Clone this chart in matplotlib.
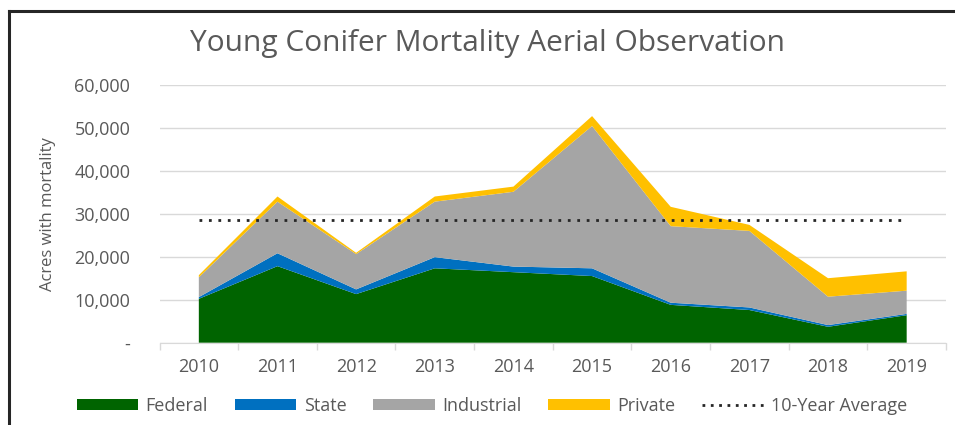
import matplotlib
matplotlib.use("Agg")
import matplotlib.pyplot as plt
from matplotlib.lines import Line2D
from matplotlib.patches import Patch
import numpy as np

years = ["2010", "2011", "2012", "2013", "2014", "2015", "2016", "2017", "2018", "2019"]
federal = [10200, 17800, 11300, 17300, 16400, 15500, 8800, 7600, 3700, 6400]
state = [400, 3000, 1100, 2600, 1300, 1800, 500, 600, 400, 300]
industrial = [4600, 12000, 8200, 12900, 17400, 33100, 17800, 17800, 6600, 5400]
private = [500, 1200, 300, 1200, 1200, 2300, 4500, 1400, 4300, 4500]
ten_year_avg = 28500
yticks = [0, 10000, 20000, 30000, 40000, 50000, 60000]
ytick_labels = ["-", "10,000", "20,000", "30,000", "40,000", "50,000", "60,000"]

colors = ["#006400", "#0070C0", "#A5A5A5", "#FFC000"]
names = ["Federal", "State", "Industrial", "Private"]
txt = "#595959"
plt.rcParams['font.family'] = ['Open Sans', 'DejaVu Sans']

fig = plt.figure(figsize=(9.55, 4.25), dpi=100)
ax = fig.add_axes([159.5/955, 1-342.7/425, (946-159.5)/955, (342.7-84.7)/425])
x = np.arange(len(years))
ax.stackplot(x, federal, state, industrial, private, colors=colors, linewidth=0)
ax.plot([x[0], x[-1]], [ten_year_avg]*2, color="#262626", linestyle=(0, (1, 2.4)), linewidth=2.0)

ax.set_xlim(-0.5, len(years) - 0.5)
ax.set_ylim(0, 60000)
ax.set_yticks(yticks)
ax.set_yticklabels(ytick_labels, color=txt, fontsize=13)
ax.set_xticks(x)
ax.set_xticklabels(years, color=txt, fontsize=13)
ax.set_xticks(np.arange(-0.5, len(years)), minor=True)
ax.tick_params(axis='x', which='major', length=0, pad=11)
ax.tick_params(axis='x', which='minor', length=5, color="#D9D9D9", width=1)
ax.tick_params(axis='y', length=0, pad=21)
ax.grid(axis='y', color="#D9D9D9", linewidth=1)
ax.set_axisbelow(True)
for s in ["top", "right", "left"]:
    ax.spines[s].set_visible(False)
ax.spines["bottom"].set_color("#D9D9D9")
ax.set_ylabel("Acres with mortality", color=txt, fontsize=12, labelpad=13)

fig.text(487/955, 1-44/425, "Young Conifer Mortality Aerial Observation", ha="center", va="center",
         fontsize=21.5, color=txt)

handles = [Patch(facecolor=c, label=n) for c, n in zip(colors, names)]
handles.append(Line2D([0], [0], color="#262626", linestyle=(0, (1, 2.0)), linewidth=2.0, label="10-Year Average"))
fig.legend(handles=handles, loc="center", bbox_to_anchor=(492/955, 1-406/425), ncol=5, frameon=False,
           fontsize=13, handlelength=3.4, handleheight=0.55, handletextpad=0.4, columnspacing=1.5,
           labelcolor=txt)

fig.add_artist(Line2D([9/955, 9/955], [0, 1-11/425], color="#262626", linewidth=2.2, transform=fig.transFigure))
fig.add_artist(Line2D([9/955, 1], [1-11/425, 1-11/425], color="#262626", linewidth=2.2, transform=fig.transFigure))

fig.savefig("out.png", dpi=100)
